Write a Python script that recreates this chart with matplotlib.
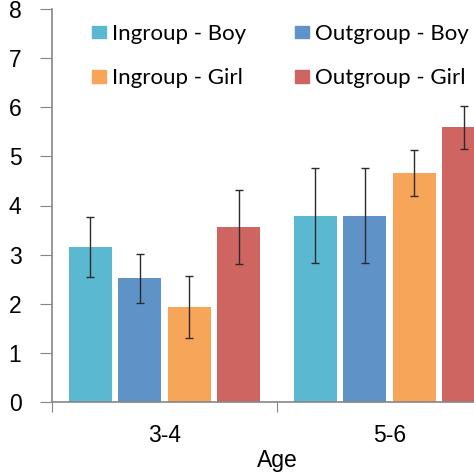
import matplotlib.pyplot as plt
from matplotlib.patches import Patch
import numpy as np

# Data
ages = ["3-4", "5-6"]
series = ["Ingroup - Boy", "Outgroup - Boy", "Ingroup - Girl", "Outgroup - Girl"]
means = [
    [3.16, 3.79],   # Ingroup - Boy
    [2.52, 3.79],   # Outgroup - Boy
    [1.93, 4.66],   # Ingroup - Girl
    [3.56, 5.59],   # Outgroup - Girl
]
errors = [
    [0.61, 0.97],
    [0.50, 0.97],
    [0.63, 0.47],
    [0.75, 0.43],
]
colors = ["#5BB8D1", "#5F93C8", "#F7A558", "#CE6561"]

fig = plt.figure(figsize=(4.74, 4.74), dpi=100)
# axes extends past the right edge of the figure (reference is cropped)
ax = fig.add_axes([52 / 474, 72 / 474, 450 / 474, 393 / 474])

centers = np.arange(len(ages)) + 0.5
width = 0.19
step = 0.22
for i, name in enumerate(series):
    x = centers + (i - 1.5) * step
    ax.bar(x, means[i], width, color=colors[i], label=name, zorder=2)
    ax.errorbar(x, means[i], yerr=errors[i], fmt="none", ecolor="#2b2b2b",
                elinewidth=1, capsize=3, capthick=1, zorder=3)

ax.set_xlim(0, 2)
ax.set_ylim(0, 8)

# category boundaries as major ticks, labels on minor ticks
ax.set_xticks([0, 1, 2])
ax.set_xticklabels([])
ax.set_xticks(centers, minor=True)
ax.set_xticklabels(ages, minor=True, fontsize=16.5, family="Liberation Sans")
ax.tick_params(axis="x", which="major", direction="out", length=7, color="#868686")
ax.tick_params(axis="x", which="minor", length=0, pad=16)
ax.set_yticks(range(0, 9))
ax.set_yticklabels([str(v) for v in range(0, 9)], fontsize=16.5, family="Liberation Sans")
ax.tick_params(axis="y", direction="out", length=9, color="#868686", pad=13)

ax.set_xlabel("Age", fontsize=16.5, family="Liberation Sans", labelpad=1)

for side in ["top", "right"]:
    ax.spines[side].set_visible(False)
for side in ["left", "bottom"]:
    ax.spines[side].set_color("#868686")
    ax.spines[side].set_linewidth(1.2)

handles = [Patch(color=colors[k]) for k in [0, 2, 1, 3]]
labels = [series[k] for k in [0, 2, 1, 3]]
ax.legend(handles, labels, ncol=2, frameon=False,
          loc="upper left", bbox_to_anchor=(0.065, 0.99), borderpad=0,
          prop={"family": "Lato", "size": 16},
          handlelength=0.6, handleheight=0.5, handletextpad=0.3,
          columnspacing=2.2, labelspacing=1.1)

fig.savefig("out.png", dpi=100)
